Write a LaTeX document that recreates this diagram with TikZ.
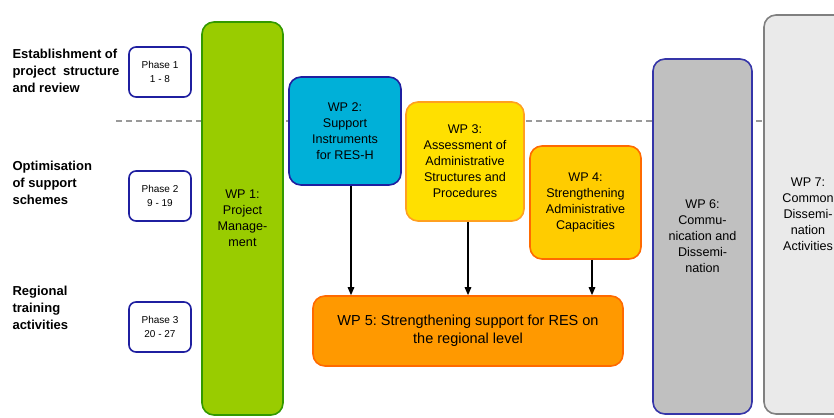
\documentclass[tikz,border=0pt]{standalone}
\usepackage{fontspec}
\setmainfont{Liberation Sans}
\usetikzlibrary{arrows.meta}
\frenchspacing

\definecolor{wpgreen}{HTML}{99CC00}
\definecolor{wpgreenline}{HTML}{339900}
\definecolor{wpblue}{HTML}{00B0D8}
\definecolor{navyline}{HTML}{1F1FA0}
\definecolor{wpyellow}{HTML}{FFE000}
\definecolor{wpyellowline}{HTML}{FFA020}
\definecolor{wpgold}{HTML}{FFCC00}
\definecolor{wporange}{HTML}{FF9900}
\definecolor{wporangeline}{HTML}{FF6A00}
\definecolor{wpgrey}{HTML}{C0C0C0}
\definecolor{wpgreyline}{HTML}{3535A8}
\definecolor{wplight}{HTML}{EAEAEA}
\definecolor{wplightline}{HTML}{808080}

\tikzset{
  wp/.style={draw, rounded corners=12pt, line width=1.6pt, align=center,
    inner sep=0pt, font=\fontsize{12.6}{16}\selectfont},
  phasebox/.style={draw=navyline, fill=white, rounded corners=7pt, line width=1.6pt,
    minimum width=62pt, minimum height=50pt, align=center, inner sep=0pt,
    font=\fontsize{10}{14}\selectfont},
  stage/.style={anchor=west, align=left, font=\bfseries\fontsize{13}{17}\selectfont},
  feed/.style={-{Triangle[length=8pt,width=6.5pt]}, line width=1.4pt},
}

\begin{document}
\begin{tikzpicture}[x=1pt,y=-1pt]
    \useasboundingbox (0,0) rectangle (834,417);
    \clip (0,0) rectangle (834,417);

    % dashed separator between the phases
    \coordinate (sepL) at (116,121);
    \coordinate (sepR) at (770,121);
    \draw[gray!80, line width=1.2pt, dash pattern=on 6pt off 4pt] (sepL) -- (sepR);

    % stages of the project
    \node[stage] (st1) at (9,71) {Establishment of\\project\ \ structure\\and review};
    \node[stage] (st2) at (9,183) {Optimisation\\of support\\schemes};
    \node[stage] (st3) at (9,308) {Regional\\training\\activities};

    % phases
    \node[phasebox] (ph1) at (160,72) {Phase 1\\1 - 8};
    \node[phasebox] (ph2) at (160,196) {Phase 2\\9 - 19};
    \node[phasebox] (ph3) at (160,327) {Phase 3\\20 - 27};

    % work packages
    \node[wp, fill=wpgreen, draw=wpgreenline, minimum width=81pt, minimum height=393pt]
        (wp1) at (242.5,218.5) {WP 1:\\Project\\Manage-\\ment};
    \node[wp, fill=wpblue, draw=navyline, minimum width=112pt, minimum height=108pt]
        (wp2) at (345,131) {WP 2:\\Support\\Instruments\\for RES-H};
    \node[wp, fill=wpyellow, draw=wpyellowline, minimum width=118pt, minimum height=119pt]
        (wp3) at (465,161.5) {WP 3:\\Assessment of\\Administrative\\Structures and\\Procedures};
    \node[wp, fill=wpgold, draw=wporangeline, minimum width=111pt, minimum height=113pt]
        (wp4) at (585.5,202.5) {WP 4:\\Strengthening\\Administrative\\Capacities};
    \node[wp, fill=wporange, draw=wporangeline, minimum width=310pt, minimum height=70pt,
        font=\fontsize{14.5}{18}\selectfont]
        (wp5) at (468,331) {WP 5: Strengthening support for RES on\\the regional level};
    \node[wp, fill=wpgrey, draw=wpgreyline, minimum width=99pt, minimum height=355pt]
        (wp6) at (702.5,236.5) {WP 6:\\Commu-\\nication and\\Dissemi-\\nation};
    \node[wp, fill=wplight, draw=wplightline, minimum width=88pt, minimum height=399pt]
        (wp7) at (808,214.5) {WP 7:\\Common\\Dissemi-\\nation\\Activities};

    % inputs to WP 5
    \draw[feed] (wp2.south -| 351,0) -- (wp5.north -| 351,0);
    \draw[feed] (wp3.south -| 468,0) -- (wp5.north -| 468,0);
    \draw[feed] (wp4.south -| 592,0) -- (wp5.north -| 592,0);
\end{tikzpicture}
\end{document}
